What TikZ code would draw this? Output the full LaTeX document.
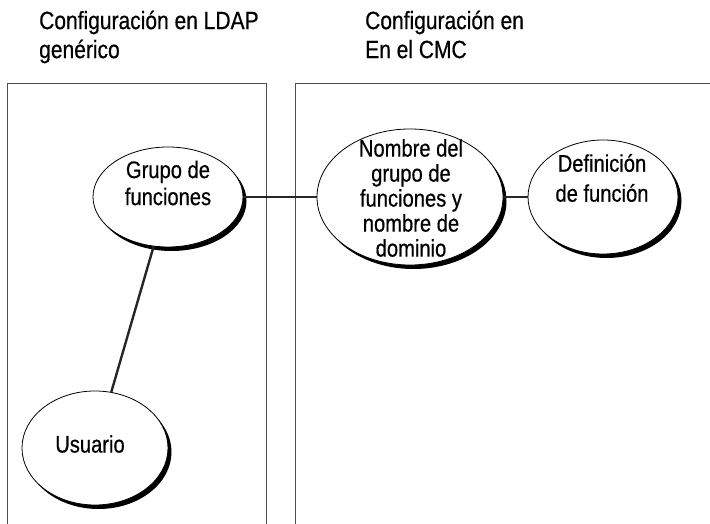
\documentclass[tikz,border=0pt]{standalone}
\usepackage{fontspec}
\setmainfont[FakeStretch=0.84,FakeBold=0.5]{Liberation Sans}
\usetikzlibrary{shapes.geometric,shadows}

\begin{document}
\begin{tikzpicture}[x=1pt,y=1pt,
  bubble/.style={ellipse, draw=black, line width=0.8pt, fill=white, inner sep=0pt,
    drop shadow={shadow xshift=3.5pt, shadow yshift=-4pt, fill=black, opacity=1}},
  caption/.style={font=\fontsize{24}{27}\selectfont, align=center, inner sep=0pt},
  heading/.style={font=\fontsize{25}{29}\selectfont, align=left, inner sep=0pt, anchor=north west},
  panel/.style={black!70, line width=0.8pt},
  link/.style={black!85, line width=2.4pt}]
\useasboundingbox (0,0) rectangle (710,524);
% the two panels, open at the bottom
\draw[panel] (7,0) -- (7,441) -- (266,441) -- (266,0);
\draw[panel] (295,0) -- (295,441) -- (710,441);
\node[heading] (ldaptitle) at (39,513.5) {Configuración en LDAP\\genérico};
\node[heading] (cmctitle) at (365,513.5) {Configuración en\\En el CMC};
% bubbles
\node[bubble, minimum width=150, minimum height=100] (grupo) at (168,327) {};
\node[bubble, minimum width=186, minimum height=136] (nombre) at (410,327) {};
\node[bubble, minimum width=150, minimum height=114] (definicion) at (603,327) {};
\node[bubble, minimum width=146, minimum height=114] (usuario) at (95,76) {};
\node[caption] (grupotext) at (168,341) {Grupo de\\funciones};
\node[caption, font=\fontsize{24}{25}\selectfont] (nombretext) at (411,326) {Nombre del\\grupo de\\funciones y\\nombre de\\dominio};
\node[caption, font=\fontsize{24}{30}\selectfont] (definiciontext) at (602,346) {Definición\\de función};
\node[caption] (usuariotext) at (90,80) {Usuario};
% links
\draw[link] (grupo.east) -- (nombre.west);
\draw[link] (nombre.east) -- (definicion.west);
\draw[link] (grupo) -- (usuario);
\end{tikzpicture}
\end{document}
